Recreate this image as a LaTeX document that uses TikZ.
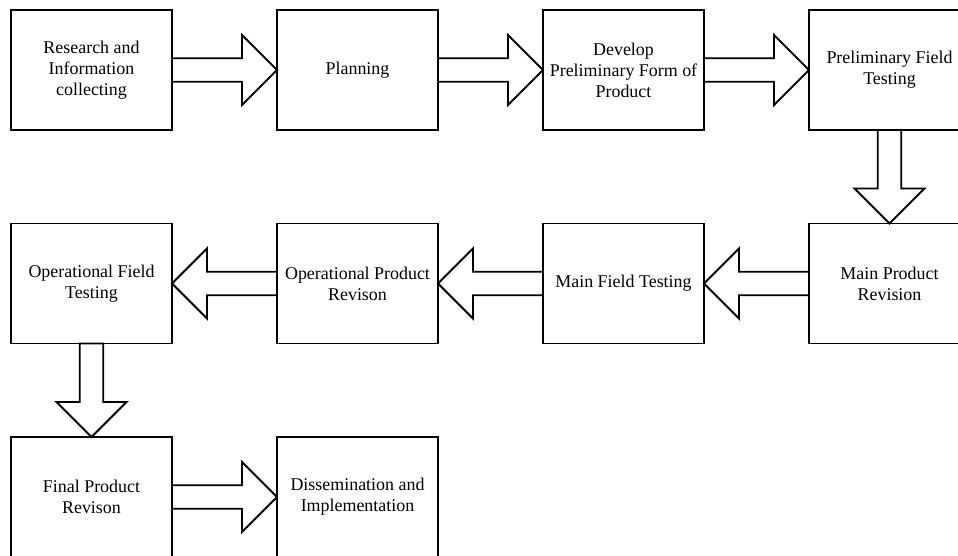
\documentclass[tikz,border=0pt]{standalone}
\usepackage{fontspec}
\setmainfont{Liberation Serif}
\usetikzlibrary{positioning,calc}
\tikzset{stage/.style = {draw, line width=1.1pt, outer sep=0pt, minimum width=3.22cm, minimum height=2.4cm, align=center, font=\fontsize{10.2}{12}\selectfont}}
\tikzset{fat/.style = {draw, line width=1.1pt, to path={
  ($(\tikztostart)!0.235cm!90:(\tikztotarget)$)
  -- ($(\tikztotarget)!0.7cm!(\tikztostart)!0.235cm!-90:(\tikztostart)$)
  -- ($(\tikztotarget)!0.7cm!(\tikztostart)!0.7cm!-90:(\tikztostart)$)
  -- (\tikztotarget)
  -- ($(\tikztotarget)!0.7cm!(\tikztostart)!0.7cm!90:(\tikztostart)$)
  -- ($(\tikztotarget)!0.7cm!(\tikztostart)!0.235cm!90:(\tikztostart)$)
  -- ($(\tikztostart)!0.235cm!-90:(\tikztotarget)$) -- cycle}}}

\begin{document}
\begin{tikzpicture}[node distance={1.87cm and 2.1cm}]
  \useasboundingbox (0,0) rectangle (19.16,-11.12);
  \clip (0,0) rectangle (19.16,-11.12);

  \node [stage] (research) at (1.83,-1.4) {Research and\\Information\\collecting};
  \node [stage, right=of research] (planning) {Planning};
  \node [stage, right=of planning] (develop) {Develop\\Preliminary Form of\\Product};
  \node [stage, right=of develop] (prelim) {Preliminary Field\\Testing};
  \node [stage, below=of prelim] (mainrev) {Main Product\\Revision};
  \node [stage, left=of mainrev] (maintest) {Main Field Testing};
  \node [stage, left=of maintest] (oprev) {Operational Product\\Revison};
  \node [stage, left=of oprev] (optest) {Operational Field\\Testing};
  \node [stage, below=of optest] (finalrev) {Final Product\\Revison};
  \node [stage, right=of finalrev] (dissem) {Dissemination and\\Implementation};

  \path[fat] (research.east) to (planning.west);
  \path[fat] (planning.east) to (develop.west);
  \path[fat] (develop.east) to (prelim.west);
  \path[fat] (prelim.south) to (mainrev.north);
  \path[fat] (mainrev.west) to (maintest.east);
  \path[fat] (maintest.west) to (oprev.east);
  \path[fat] (oprev.west) to (optest.east);
  \path[fat] (optest.south) to (finalrev.north);
  \path[fat] (finalrev.east) to (dissem.west);
\end{tikzpicture}
\end{document}
